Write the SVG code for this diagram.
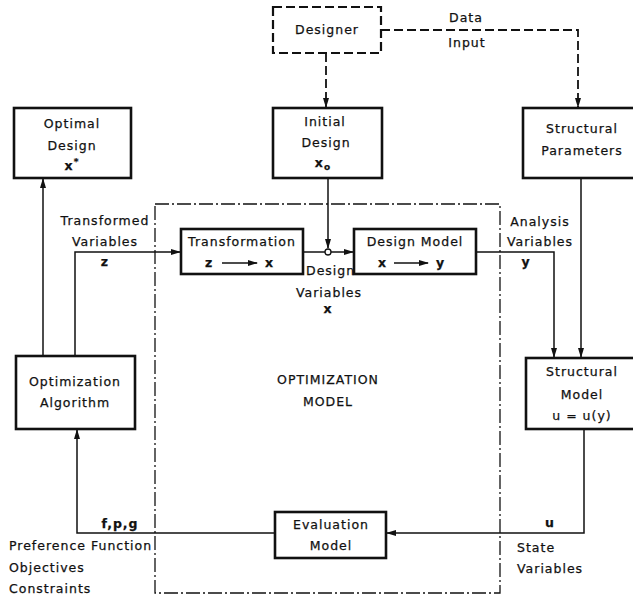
<svg xmlns="http://www.w3.org/2000/svg" width="633" height="597" viewBox="0 0 633 597">
<defs>
<marker id="ah" markerWidth="10" markerHeight="8" refX="9" refY="4" orient="auto" markerUnits="userSpaceOnUse">
<path d="M0,1 L10,4 L0,7 Z" fill="#111"/>
</marker>
<style>
.box{fill:#fff;stroke:#111;stroke-width:2.6}
.dbox{fill:#fff;stroke:#111;stroke-width:2.2;stroke-dasharray:9,4}
.ln{fill:none;stroke:#111;stroke-width:1.5}
.dl{fill:none;stroke:#111;stroke-width:1.8;stroke-dasharray:9,4}
.dd{fill:none;stroke:#111;stroke-width:1.3;stroke-dasharray:14,3,2,3}
text{font-family:"DejaVu Sans","Liberation Sans",sans-serif;font-size:12.5px;fill:#111;stroke:#111;stroke-width:0.25;letter-spacing:1px}
.c{text-anchor:middle}
</style>
</defs>
<rect width="633" height="597" fill="#fff"/>

<g id="optimization-model-boundary">
<path class="dd" d="M155,204 H500 V593 H155 Z"/>
<text class="c" x="328" y="384">OPTIMIZATION</text>
<text class="c" x="328" y="406">MODEL</text>
</g>

<g id="connectors">
<path class="dl" d="M326,53 V107" marker-end="url(#ah)"/>
<path class="dl" d="M381,30 H578 V107" marker-end="url(#ah)"/>
<path class="ln" d="M43,355 V179" marker-end="url(#ah)"/>
<path class="ln" d="M75,355 V252 H180" marker-end="url(#ah)"/>
<path class="ln" d="M303,252 H325"/>
<path class="ln" d="M331,252 H353" marker-end="url(#ah)"/>
<path class="ln" d="M328,178 V248" marker-end="url(#ah)"/>
<circle cx="328" cy="252" r="3" fill="#fff" stroke="#111" stroke-width="1.3"/>
<path class="ln" d="M476,252 H554 V357" marker-end="url(#ah)"/>
<path class="ln" d="M581,178 V357" marker-end="url(#ah)"/>
<path class="ln" d="M584,429 V533 H387" marker-end="url(#ah)"/>
<path class="ln" d="M275,533 H77 V430" marker-end="url(#ah)"/>
</g>

<g id="labels">
<text class="c" x="466" y="22">Data</text>
<text class="c" x="467" y="47">Input</text>
<text class="c" x="105" y="225">Transformed</text>
<text class="c" x="105" y="246">Variables</text>
<text class="c" x="105" y="266" font-weight="bold">z</text>
<text x="306" y="275">Design</text>
<text class="c" x="329" y="297">Variables</text>
<text class="c" x="328" y="313" font-weight="bold">x</text>
<text class="c" x="540" y="226">Analysis</text>
<text class="c" x="540" y="246">Variables</text>
<text class="c" x="526" y="266" font-weight="bold">y</text>
<text class="c" x="550" y="527" font-weight="bold">u</text>
<text x="517" y="552">State</text>
<text x="517" y="573">Variables</text>
<text class="c" x="120" y="528" font-weight="bold">f,p,g</text>
<text x="9" y="550">Preference Function</text>
<text x="9" y="572">Objectives</text>
<text x="9" y="593">Constraints</text>
</g>

<g id="designer">
<rect class="dbox" x="273" y="7" width="108" height="46"/>
<text class="c" x="327" y="34">Designer</text>
</g>

<g id="initial-design">
<rect class="box" x="273" y="108" width="109" height="70"/>
<text class="c" x="325" y="126">Initial</text>
<text class="c" x="326" y="147">Design</text>
<text class="c" x="323" y="167" font-weight="bold">x<tspan font-size="9" dy="3">o</tspan></text>
</g>

<g id="optimal-design">
<rect class="box" x="14" y="108" width="117" height="70"/>
<text class="c" x="72" y="128">Optimal</text>
<text class="c" x="72" y="150">Design</text>
<text class="c" x="72" y="170" font-weight="bold">x<tspan font-size="9" dy="-5">*</tspan></text>
</g>

<g id="structural-parameters">
<rect class="box" x="523" y="108" width="120" height="70"/>
<text class="c" x="582" y="133">Structural</text>
<text class="c" x="582" y="155">Parameters</text>
</g>

<g id="transformation">
<rect class="box" x="181" y="229" width="122" height="45"/>
<text class="c" x="242" y="246">Transformation</text>
<text x="205" y="267" font-weight="bold">z</text>
<path class="ln" d="M222,263 H257" stroke-width="1.2" marker-end="url(#ah)"/>
<text x="265" y="267" font-weight="bold">x</text>
</g>

<g id="design-model">
<rect class="box" x="354" y="229" width="122" height="45"/>
<text class="c" x="415" y="246">Design Model</text>
<text x="378" y="267" font-weight="bold">x</text>
<path class="ln" d="M394,263 H428" stroke-width="1.2" marker-end="url(#ah)"/>
<text x="436" y="267" font-weight="bold">y</text>
</g>

<g id="structural-model">
<rect class="box" x="526" y="358" width="117" height="71"/>
<text class="c" x="582" y="376">Structural</text>
<text class="c" x="582" y="399">Model</text>
<text class="c" x="582" y="420">u = u(y)</text>
</g>

<g id="optimization-algorithm">
<rect class="box" x="16" y="356" width="119" height="73"/>
<text class="c" x="75" y="386">Optimization</text>
<text class="c" x="75" y="407">Algorithm</text>
</g>

<g id="evaluation-model">
<rect class="box" x="275" y="512" width="111" height="46"/>
<text class="c" x="331" y="529">Evaluation</text>
<text class="c" x="331" y="550">Model</text>
</g>
</svg>
